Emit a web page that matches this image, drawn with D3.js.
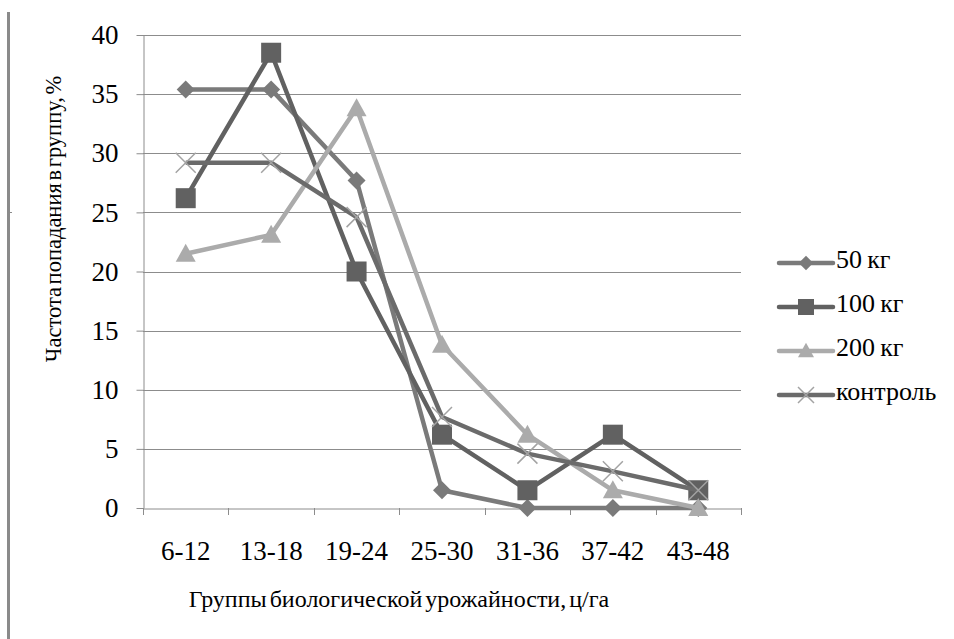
<!DOCTYPE html>
<html><head><meta charset="utf-8">
<script src="https://cdn.jsdelivr.net/npm/d3@7"></script>
<style>body{margin:0;background:#fff}svg{display:block}</style>
</head><body><svg id="c" width="954" height="639"></svg>
<script>
const categories = ["6-12","13-18","19-24","25-30","31-36","37-42","43-48"];
const s50 = [35.4, 35.4, 27.7, 1.5, 0, 0, 0];
const s100 = [26.2, 38.5, 20.0, 6.2, 1.5, 6.2, 1.5];
const s200 = [21.5, 23.1, 33.8, 13.8, 6.2, 1.5, 0];
const sCtrl = [29.2, 29.2, 24.6, 7.7, 4.6, 3.1, 1.5];
const seriesNames = ["50 кг","100 кг","200 кг","контроль"];
const yTicks = [0,5,10,15,20,25,30,35,40];
const xTitle = "Группы биологической урожайности, ц/га";
const yTitle = "Частота попадания в группу, %";

const series = [
  {name: seriesNames[0], values: s50, color: "#7a7a7a", marker: "diamond", mcolor: "#7a7a7a"},
  {name: seriesNames[1], values: s100, color: "#616161", marker: "square", mcolor: "#616161"},
  {name: seriesNames[2], values: s200, color: "#ababab", marker: "triangle", mcolor: "#ababab"},
  {name: seriesNames[3], values: sCtrl, color: "#6b6b6b", marker: "x", mcolor: "#a3a3a3"}
];

const FONT = '"Liberation Serif"';
const svg = d3.select("#c");
const L = 143, R = 741, T = 35, B = 508;
const xb = d3.scaleBand().domain(categories).range([L, R]);
const x = d => xb(d) + xb.bandwidth()/2;
const y = d3.scaleLinear().domain([0, 40]).range([B, T]);

// left border
svg.append("line").attr("x1",8.5).attr("x2",8.5).attr("y1",12).attr("y2",639).attr("stroke","#8a8a8a").attr("stroke-width",3);
svg.append("line").attr("x1",10).attr("x2",12).attr("y1",212.5).attr("y2",212.5).attr("stroke","#8a8a8a").attr("stroke-width",1);

// gridlines
svg.append("g").selectAll("line").data(yTicks.filter(v=>v>0)).join("line")
  .attr("x1",L).attr("x2",R).attr("y1",d=>Math.round(y(d))+0.5).attr("y2",d=>Math.round(y(d))+0.5)
  .attr("stroke","#8c8c8c").attr("stroke-width",1);

// y axis
const ya = svg.append("g").attr("transform",`translate(${L+0.5},0)`)
  .call(d3.axisLeft(y).tickValues(yTicks).tickSize(7).tickPadding(18).tickSizeOuter(0));
ya.attr("font-family",null).style("font-family",FONT);
ya.select(".domain").attr("stroke","#8c8c8c");
ya.selectAll(".tick line").attr("stroke","#8c8c8c");
ya.selectAll("text").attr("font-size",27).style("font-family",FONT).attr("fill","#000");

// x axis
const xa = svg.append("g").attr("transform",`translate(0,${B+0.5})`)
  .call(d3.axisBottom(xb).tickSize(0).tickPadding(0).tickSizeOuter(0));
xa.attr("font-family",null).style("font-family",FONT);
xa.select(".domain").attr("stroke","#8c8c8c");
xa.selectAll("text").attr("font-size",27).style("font-family",FONT).attr("fill","#000").attr("dy",null).attr("y",51);
const bounds = categories.map(c=>xb(c)).concat([R]);
svg.append("g").selectAll("line").data(bounds).join("line")
  .attr("x1",d=>Math.round(d)+0.5).attr("x2",d=>Math.round(d)+0.5).attr("y1",B).attr("y2",B+7)
  .attr("stroke","#8c8c8c");

// titles
svg.append("text").attr("x",399).attr("y",607).attr("text-anchor","middle").attr("font-size",24).style("font-family",FONT).style("word-spacing","-3px").text(xTitle);
svg.append("text").attr("transform","translate(61,219) rotate(-90)").attr("text-anchor","middle").attr("font-size",22.5).style("font-family",FONT).style("word-spacing","-3px").text(yTitle);

// markers
function drawMarker(g, type, cx, cy, color, s){
  if(type==="diamond"){
    const r = 9*s;
    g.append("path").attr("d",`M${cx},${cy-r}L${cx+r},${cy}L${cx},${cy+r}L${cx-r},${cy}Z`).attr("fill",color);
  } else if(type==="square"){
    const h = 10*s;
    g.append("rect").attr("x",cx-h).attr("y",cy-h).attr("width",2*h).attr("height",2*h).attr("fill",color);
  } else if(type==="triangle"){
    const w = 10*s, hh = 9*s;
    g.append("path").attr("d",`M${cx},${cy-hh-1}L${cx+w},${cy+hh-1}L${cx-w},${cy+hh-1}Z`).attr("fill",color);
  } else {
    const r = 10*s;
    g.append("path").attr("d",`M${cx-r},${cy-r}L${cx+r},${cy+r}M${cx-r},${cy+r}L${cx+r},${cy-r}`).attr("stroke",color).attr("stroke-width",1.5).attr("fill","none");
  }
}

const line = d3.line().x((d,i)=>x(categories[i])).y(d=>y(d));
series.forEach(s=>{
  const g = svg.append("g");
  g.append("path").attr("d",line(s.values)).attr("fill","none").attr("stroke",s.color).attr("stroke-width",4.5).attr("stroke-linejoin","round");
  s.values.forEach((v,i)=>drawMarker(g, s.marker, x(categories[i]), y(v), s.mcolor, 1));
});

// legend
const legY = [263, 307, 351, 395];
series.forEach((s,i)=>{
  const g = svg.append("g");
  g.append("line").attr("x1",779).attr("x2",833).attr("y1",legY[i]).attr("y2",legY[i]).attr("stroke",s.color).attr("stroke-width",4.5).attr("stroke-linecap","round");
  drawMarker(g, s.marker, 806, legY[i], s.mcolor, 0.8);
  g.append("text").attr("x",836).attr("y",legY[i]+5).attr("font-size",26).style("font-family",FONT).attr("fill","#000").text(s.name.replace(" ", "\u2009"));
});
</script></body></html>
